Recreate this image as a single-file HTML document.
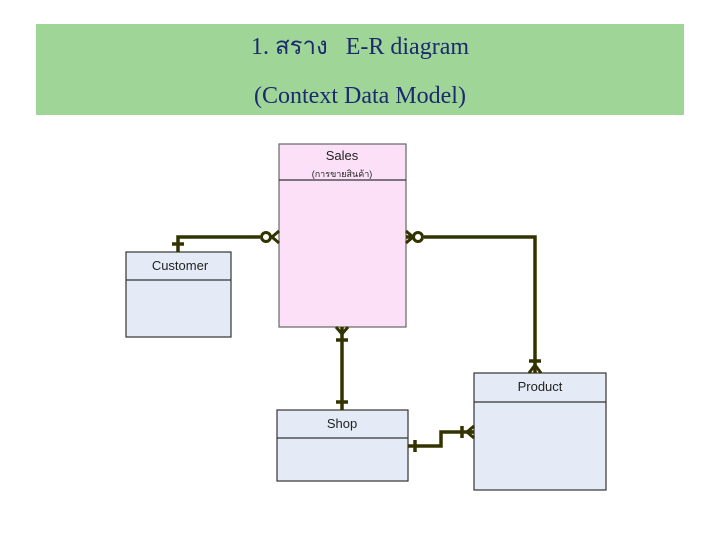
<!DOCTYPE html>
<html><head><meta charset="utf-8"><style>
html,body{margin:0;padding:0;background:#fff;width:720px;height:540px;overflow:hidden}
</style></head><body>
<svg width="720" height="540" viewBox="0 0 720 540" xmlns="http://www.w3.org/2000/svg">
<rect x="36" y="24" width="648" height="91" fill="#a0d598"/>
<text x="360" y="54" text-anchor="middle" font-family="'Liberation Serif','Noto Serif CJK SC',serif" font-size="24" fill="#1a2a6e">1. สราง &#160; E-R diagram</text>
<text x="360" y="103" text-anchor="middle" font-family="'Liberation Serif',serif" font-size="24" fill="#1a2a6e">(Context Data Model)</text>

<g stroke="#333" stroke-width="1.2" font-family="'Liberation Sans',sans-serif">
<rect x="279" y="144" width="127" height="183" fill="#fbe0f8" stroke="#666"/>
<line x1="279" y1="180" x2="406" y2="180" stroke="#333"/>
<rect x="126" y="252" width="105" height="85" fill="#e4ebf6"/>
<line x1="126" y1="280" x2="231" y2="280"/>
<rect x="277" y="410" width="131" height="71" fill="#e4ebf6"/>
<line x1="277" y1="438" x2="408" y2="438"/>
<rect x="474" y="373" width="132" height="117" fill="#e4ebf6"/>
<line x1="474" y1="402" x2="606" y2="402"/>
</g>
<g font-family="'Liberation Sans',sans-serif" font-size="13" fill="#222" text-anchor="middle">
<text x="342" y="160">Sales</text>
<text x="342" y="177" font-size="9" font-family="'Liberation Sans','Noto Sans CJK SC',sans-serif">(การขายสินค้า)</text>
<text x="180" y="270">Customer</text>
<text x="342" y="428">Shop</text>
<text x="540" y="391">Product</text>
</g>

<g stroke="#333300" stroke-width="3.5" fill="none">
<!-- customer-sales -->
<polyline points="178,252 178,237 260,237"/>
<line x1="172" y1="244" x2="184" y2="244"/>
<circle cx="266" cy="237" r="4.5" fill="#fff" stroke-width="3"/>
<polyline points="279,231 272,237 279,243" stroke-width="3"/>
<!-- sales-product -->
<polyline points="424,237 535,237 535,373"/>
<circle cx="418" cy="237" r="4.5" fill="#fff" stroke-width="3"/>
<polyline points="406,231 413,237 406,243" stroke-width="3"/>
<line x1="406" y1="237" x2="413" y2="237"/>
<line x1="529" y1="361" x2="541" y2="361"/>
<polyline points="529,373 535,365 541,373" stroke-width="3"/>
<!-- sales-shop -->
<line x1="342" y1="327" x2="342" y2="410"/>
<polyline points="336,327 342,334 348,327" stroke-width="3"/>
<line x1="336" y1="340" x2="348" y2="340"/>
<line x1="336" y1="402" x2="348" y2="402"/>
<!-- shop-product -->
<polyline points="408,446 441,446 441,432 474,432"/>
<line x1="415" y1="440" x2="415" y2="452"/>
<line x1="462" y1="426" x2="462" y2="438"/>
<polyline points="474,426 467,432 474,438" stroke-width="3"/>
</g>
</svg>
</body></html>
